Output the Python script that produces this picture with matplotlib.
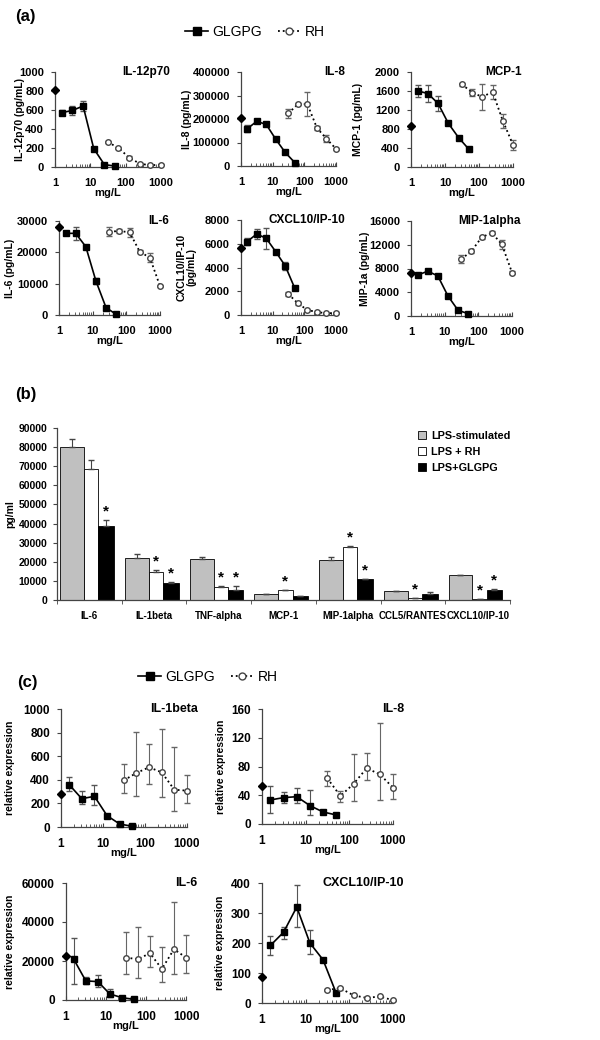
import numpy as np
import matplotlib
matplotlib.use("Agg")
import matplotlib.pyplot as plt
from matplotlib.lines import Line2D
from matplotlib.ticker import LogLocator, NullFormatter

plt.rcParams['font.family'] = ['Liberation Sans', 'DejaVu Sans']
plt.rcParams['font.weight'] = 'bold'

W, H = 600, 1040

# doses (mg/L); control point is drawn at x = 1
control_dose = 1
glgpg_dose = [1.5625, 3.125, 6.25, 12.5, 25, 50]
rh_dose = [31.25, 62.5, 125, 250, 500, 1000]

# ---- panel (a): cytokine secretion ----
il12_ctrl = 814
il12_glgpg = [572, 596, 642, 193, 25, 10]
il12_glgpg_err = [25, 50, 55, 20, 5, 5]
il12_rh = [263, 200, 100, 35, 18, 25]
il12_rh_err = [15, 10, 12, 8, 5, 8]

il8_ctrl = 206000
il8_glgpg = [158000, 190000, 177000, 114000, 57500, 14400]
il8_glgpg_err = [15000, 5000, 8000, 5000, 3000, 2000]
il8_rh = [224000, 263000, 263000, 162000, 116000, 73000]
il8_rh_err = [20000, 5000, 50000, 10000, 15000, 5000]

mcp1_ctrl = 864
mcp1_glgpg = [1603, 1547, 1338, 920, 620, 376]
mcp1_glgpg_err = [130, 175, 150, 30, 30, 20]
mcp1_rh = [1742, 1568, 1477, 1582, 976, 467]
mcp1_rh_err = [30, 80, 280, 140, 150, 100]

il6_ctrl = 28000
il6_glgpg = [26060, 26060, 21800, 10850, 2340, 210]
il6_glgpg_err = [500, 2100, 500, 1000, 300, 200]
il6_rh = [26600, 26800, 26400, 20200, 18300, 9250]
il6_rh_err = [1500, 500, 1500, 500, 1500, 300]

cxcl10_ctrl = 5610
cxcl10_glgpg = [6180, 6820, 6460, 5330, 4130, 2250]
cxcl10_glgpg_err = [300, 400, 900, 150, 300, 100]
cxcl10_rh = [1770, 980, 420, 250, 140, 170]
cxcl10_rh_err = [200, 100, 100, 50, 50, 50]

mip_ctrl = 7320
mip_glgpg = [6870, 7550, 6760, 3380, 960, 390]
mip_glgpg_err = [200, 200, 200, 200, 150, 100]
mip_rh = [9580, 10930, 13240, 14030, 12060, 7320]
mip_rh_err = [700, 300, 300, 300, 800, 200]

# ---- panel (b): LPS stimulation ----
b_categories = ["IL-6", "IL-1beta", "TNF-alpha", "MCP-1", "MIP-1alpha",
                "CCL5/RANTES", "CXCL10/IP-10"]
b_lps = [80000, 21800, 21250, 3000, 20900, 4500, 12900]
b_lps_err = [4000, 2200, 1300, 150, 1600, 100, 0]
b_rh = [68800, 14500, 6600, 5050, 27500, 900, 500]
b_rh_err = [4400, 1200, 700, 100, 900, 0, 0]
b_glgpg = [38800, 9000, 5050, 1900, 11150, 3300, 5050]
b_glgpg_err = [3000, 400, 2200, 400, 0, 1100, 550]
b_rh_star = [False, True, True, True, True, True, True]
b_glgpg_star = [True, True, True, False, True, False, True]

# ---- panel (c): relative expression (lower, upper error) ----
c_il1b_ctrl = 280
c_il1b_glgpg = [359, 240, 260, 96, 25, 6]
c_il1b_glgpg_lo = [57, 45, 71, 0, 0, 0]
c_il1b_glgpg_hi = [65, 62, 99, 0, 0, 0]
c_il1b_rh = [395, 458, 506, 463, 316, 308]
c_il1b_rh_lo = [107, 198, 142, 209, 178, 105]
c_il1b_rh_hi = [142, 347, 197, 367, 359, 130]

c_il8_ctrl = 53
c_il8_glgpg = [33.5, 36.7, 38, 25.6, 16.7, 12.6]
c_il8_glgpg_lo = [18.5, 7.7, 9, 13, 1, 0]
c_il8_glgpg_hi = [19.5, 8.3, 12, 21.4, 1, 0]
c_il8_rh = [63.7, 39, 55.8, 77.7, 69, 50.7]
c_il8_rh_lo = [10.7, 9, 23.8, 16.7, 35.5, 15.7]
c_il8_rh_hi = [10.3, 7.5, 41.2, 20.9, 71, 18.3]

c_il6_ctrl = 22800
c_il6_glgpg = [20900, 9800, 9430, 3090, 1200, 340]
c_il6_glgpg_lo = [12700, 1740, 2570, 1390, 0, 0]
c_il6_glgpg_hi = [10800, 2200, 3430, 2400, 0, 0]
c_il6_rh = [21770, 20900, 24000, 15940, 26060, 21770]
c_il6_rh_lo = [8400, 9760, 7200, 6850, 12690, 8070]
c_il6_rh_hi = [13030, 16470, 8570, 11490, 24000, 11490]

c_cxcl10_ctrl = 85.6
c_cxcl10_glgpg = [192, 236, 320, 200, 144, 33]
c_cxcl10_glgpg_lo = [33, 23, 67, 36, 0, 0]
c_cxcl10_glgpg_hi = [33, 17, 74, 42, 0, 0]
c_cxcl10_rh = [44, 49, 25.6, 16.7, 22, 9]
c_cxcl10_rh_lo = [3, 6, 2, 2, 2, 2]
c_cxcl10_rh_hi = [3, 6, 2, 2, 2, 2]

fig = plt.figure(figsize=(W / 100, H / 100), dpi=100)


def add_ax(x0, y0, x1, y1):
    return fig.add_axes([x0 / W, 1 - y1 / H, (x1 - x0) / W, (y1 - y0) / H])


def dose_panel(rect, name, ylabel, ylab_x, yticks, ctrl, g, g_err, r, r_err,
               tick_fs=8, title_dx=9, title_fs=8.5):
    x0, y0, x1, y1 = rect
    ax = add_ax(*rect)
    ax.errorbar(glgpg_dose, g, yerr=g_err, color='black', marker='s', ms=5,
                lw=1.2, ecolor='#555555', elinewidth=0.8, capsize=2,
                clip_on=False, zorder=3)
    ax.errorbar(rh_dose, r, yerr=r_err, color='black', marker='o', ms=4,
                mfc='white', mec='#444444', ls=':', lw=1.3, ecolor='#666666',
                elinewidth=0.8, capsize=2, clip_on=False, zorder=3)
    ax.plot([control_dose], [ctrl], marker='D', ms=4, color='black',
            ls='none', clip_on=False, zorder=4)
    ax.set_xscale('log')
    ax.set_xlim(1, 1000)
    ax.set_ylim(yticks[0], yticks[-1])
    ax.set_yticks(yticks)
    ax.set_yticklabels([str(v) for v in yticks])
    ax.set_xticks([1, 10, 100, 1000])
    ax.set_xticklabels(['1', '10', '100', '1000'])
    ax.xaxis.set_minor_locator(LogLocator(base=10, subs=np.arange(2, 10)))
    ax.xaxis.set_minor_formatter(NullFormatter())
    for s in ['top', 'right']:
        ax.spines[s].set_visible(False)
    for s in ['left', 'bottom']:
        ax.spines[s].set_color('#444444')
        ax.spines[s].set_linewidth(0.9)
    ax.tick_params(axis='x', which='major', direction='in', length=3,
                   pad=8, labelsize=tick_fs, color='#444444')
    ax.tick_params(axis='x', which='minor', direction='in', length=2,
                   color='#444444')
    ax.tick_params(axis='y', direction='out', length=3, pad=5,
                   labelsize=tick_fs, color='#444444')
    ax.set_xlabel('mg/L', fontsize=8, fontweight='bold')
    ax.xaxis.set_label_coords(0.5, -19.0 / (y1 - y0) - 0.02)
    ax.set_ylabel(ylabel, fontsize=7.5, fontweight='bold', linespacing=1.1)
    ax.yaxis.set_label_coords((ylab_x - x0) / (x1 - x0), 0.5)
    ax.text(1.0 + title_dx / (x1 - x0), 1.0, name, transform=ax.transAxes,
            ha='right', va='center', fontsize=title_fs, fontweight='bold')
    return ax


def expr_panel(rect, name, ylab_x, yticks, ctrl, g, g_lo, g_hi, r, r_lo, r_hi):
    return dose_panel(rect, name, 'relative expression', ylab_x, yticks, ctrl,
                      g, [g_lo, g_hi], r, [r_lo, r_hi], tick_fs=8.5,
                      title_dx=11, title_fs=9)


# panel (a)
dose_panel((55, 72, 161, 167), 'IL-12p70', 'IL-12p70 (pg/mL)', 25,
           [0, 200, 400, 600, 800, 1000], il12_ctrl, il12_glgpg,
           il12_glgpg_err, il12_rh, il12_rh_err)
dose_panel((241, 72, 336, 166), 'IL-8', 'IL-8 (pg/mL)', 192,
           [0, 100000, 200000, 300000, 400000], il8_ctrl, il8_glgpg,
           il8_glgpg_err, il8_rh, il8_rh_err)
dose_panel((411, 72, 513, 167), 'MCP-1', 'MCP-1 (pg/mL)', 363,
           [0, 400, 800, 1200, 1600, 2000], mcp1_ctrl, mcp1_glgpg,
           mcp1_glgpg_err, mcp1_rh, mcp1_rh_err)
dose_panel((59, 221, 160, 315), 'IL-6', 'IL-6 (pg/mL)', 15,
           [0, 10000, 20000, 30000], il6_ctrl, il6_glgpg, il6_glgpg_err,
           il6_rh, il6_rh_err)
dose_panel((241, 220, 336, 315), 'CXCL10/IP-10', 'CXCL10/IP-10\n(pg/mL)', 197,
           [0, 2000, 4000, 6000, 8000], cxcl10_ctrl, cxcl10_glgpg,
           cxcl10_glgpg_err, cxcl10_rh, cxcl10_rh_err)
dose_panel((411, 221, 512, 316), 'MIP-1alpha', 'MIP-1a (pg/mL)', 370,
           [0, 4000, 8000, 12000, 16000], mip_ctrl, mip_glgpg, mip_glgpg_err,
           mip_rh, mip_rh_err)

# panel (c)
expr_panel((61, 709, 187, 827), 'IL-1beta', 15, [0, 200, 400, 600, 800, 1000],
           c_il1b_ctrl, c_il1b_glgpg, c_il1b_glgpg_lo, c_il1b_glgpg_hi,
           c_il1b_rh, c_il1b_rh_lo, c_il1b_rh_hi)
expr_panel((262, 709, 393, 824), 'IL-8', 226, [0, 40, 80, 120, 160],
           c_il8_ctrl, c_il8_glgpg, c_il8_glgpg_lo, c_il8_glgpg_hi,
           c_il8_rh, c_il8_rh_lo, c_il8_rh_hi)
expr_panel((66, 883, 186, 1000), 'IL-6', 15, [0, 20000, 40000, 60000],
           c_il6_ctrl, c_il6_glgpg, c_il6_glgpg_lo, c_il6_glgpg_hi,
           c_il6_rh, c_il6_rh_lo, c_il6_rh_hi)
expr_panel((262, 883, 393, 1003), 'CXCL10/IP-10', 225, [0, 100, 200, 300, 400],
           c_cxcl10_ctrl, c_cxcl10_glgpg, c_cxcl10_glgpg_lo, c_cxcl10_glgpg_hi,
           c_cxcl10_rh, c_cxcl10_rh_lo, c_cxcl10_rh_hi)

# panel (b)
axb = add_ax(57, 428, 510, 600)
xb = np.arange(len(b_categories))
zeros = np.zeros(len(xb))
ekw = dict(ecolor='#444444', elinewidth=0.8, capsize=2)
axb.bar(xb - 0.45, b_lps, width=0.37, align='edge', color='#c0c0c0',
        edgecolor='black', lw=0.6, yerr=[zeros, b_lps_err], error_kw=ekw,
        label='LPS-stimulated')
axb.bar(xb - 0.08, b_rh, width=0.22, align='edge', color='white',
        edgecolor='black', lw=0.6, yerr=[zeros, b_rh_err], error_kw=ekw,
        label='LPS + RH')
axb.bar(xb + 0.14, b_glgpg, width=0.24, align='edge', color='black',
        edgecolor='black', lw=0.6, yerr=[zeros, b_glgpg_err], error_kw=ekw,
        label='LPS+GLGPG')
for i in xb:
    if b_rh_star[i]:
        axb.annotate('*', (i + 0.03, b_rh[i] + b_rh_err[i]), xytext=(0, 1),
                     textcoords='offset points', ha='center', va='bottom',
                     fontsize=11, fontweight='bold')
    if b_glgpg_star[i]:
        axb.annotate('*', (i + 0.26, b_glgpg[i] + b_glgpg_err[i]),
                     xytext=(0, 1), textcoords='offset points', ha='center',
                     va='bottom', fontsize=11, fontweight='bold')
axb.set_xlim(-0.5, len(xb) - 0.5)
axb.set_ylim(0, 90000)
axb.set_yticks(np.arange(0, 90001, 10000))
axb.set_xticks(xb)
axb.set_xticklabels(b_categories)
axb.set_xticks(np.arange(-0.5, len(xb), 1.0), minor=True)
for s in ['top', 'right']:
    axb.spines[s].set_visible(False)
for s in ['left', 'bottom']:
    axb.spines[s].set_color('#444444')
    axb.spines[s].set_linewidth(0.9)
axb.tick_params(axis='x', which='major', length=0, pad=8, labelsize=7)
axb.tick_params(axis='x', which='minor', length=3, direction='out',
                color='#444444')
axb.tick_params(axis='y', length=3, direction='out', pad=4, labelsize=7.5,
                color='#444444')
axb.set_ylabel('pg/ml', fontsize=7.5, fontweight='bold')
axb.yaxis.set_label_coords((15 - 57) / 453.0, 0.5)
axb.legend(loc='upper left', bbox_to_anchor=(408 / W, 1 - 421 / H),
           bbox_transform=fig.transFigure, frameon=False, fontsize=7.8,
           handlelength=0.8, handleheight=0.8, handletextpad=0.4,
           labelspacing=0.55)

# series legends and panel letters
series_handles = [
    Line2D([], [], color='black', marker='s', ms=6, lw=1.2),
    Line2D([], [], color='black', marker='o', ms=5, mfc='white',
           mec='#444444', ls=':', lw=1.3),
]
for cx, cy in [(255, 32), (208, 677)]:
    fig.legend(series_handles, ['GLGPG', 'RH'], loc='center',
               bbox_to_anchor=(cx / W, 1 - cy / H), ncol=2, frameon=False,
               prop={'size': 10, 'weight': 'normal'}, handlelength=1.6,
               handletextpad=0.3, columnspacing=1.2)

for txt, px, py in [('(a)', 15, 17), ('(b)', 15, 395), ('(c)', 17, 682)]:
    fig.text(px / W, 1 - py / H, txt, fontsize=12, fontweight='bold',
             va='center', ha='left')

fig.savefig('out.png', dpi=100)
